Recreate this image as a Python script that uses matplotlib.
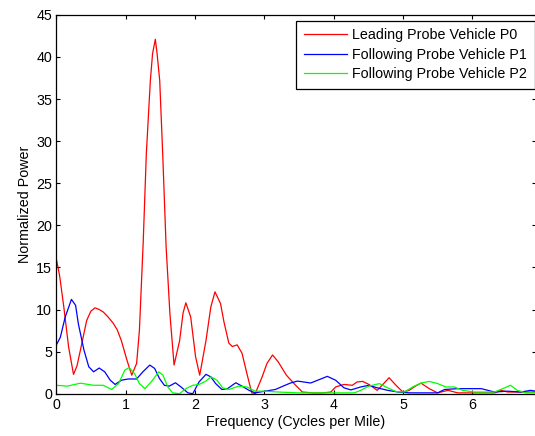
import matplotlib
matplotlib.use("Agg")
from matplotlib import pyplot as plt

plt.rcParams['font.family'] = ['Liberation Sans', 'DejaVu Sans']

# Leading probe vehicle P0 (red)
freq_p0 = [0.0, 0.05, 0.11, 0.18, 0.25, 0.30, 0.35, 0.44, 0.50, 0.56, 0.62, 0.68,
           0.75, 0.82, 0.88, 0.94, 1.02, 1.09, 1.16, 1.20, 1.255, 1.30, 1.358, 1.39,
           1.43, 1.455, 1.493, 1.536, 1.585, 1.64, 1.70, 1.78, 1.83, 1.87, 1.94, 2.01,
           2.07, 2.16, 2.23, 2.29, 2.37, 2.42, 2.49, 2.54, 2.61, 2.68, 2.75, 2.82,
           2.87, 2.92, 2.97, 3.04, 3.12, 3.20, 3.32, 3.43, 3.55, 3.70, 3.85, 3.96,
           4.03, 4.15, 4.27, 4.34, 4.42, 4.51, 4.63, 4.70, 4.80, 4.90, 5.00, 5.09,
           5.18, 5.26, 5.38, 5.50, 5.65, 5.79, 6.00, 6.32, 6.42, 6.51, 6.70, 6.92]
power_p0 = [16.1, 14.0, 10.3, 5.5, 2.3, 3.3, 5.2, 8.7, 9.8, 10.2, 10.0, 9.7,
            9.1, 8.4, 7.6, 6.3, 4.0, 2.2, 3.6, 7.5, 18.0, 28.5, 37.2, 40.4,
            42.1, 40.4, 37.2, 28.5, 17.5, 9.5, 3.4, 6.3, 9.6, 10.8, 9.1, 4.4,
            2.2, 6.3, 10.3, 12.1, 10.7, 8.5, 6.0, 5.6, 5.8, 4.8, 2.4, 0.1,
            0.0, 1.0, 2.0, 3.6, 4.6, 3.8, 2.2, 1.2, 0.2, 0.1, 0.1, 0.2,
            0.8, 1.1, 1.0, 1.4, 1.46, 1.1, 0.4, 1.0, 1.9, 1.0, 0.2, 0.4,
            0.9, 1.26, 0.6, 0.1, 0.4, 0.1, 0.1, 0.1, 0.4, 0.2, 0.2, 0.2]

# Following probe vehicle P1 (blue)
freq_p1 = [0.0, 0.06, 0.13, 0.22, 0.28, 0.32, 0.40, 0.47, 0.54, 0.62, 0.70, 0.78,
           0.85, 0.94, 1.04, 1.16, 1.25, 1.35, 1.42, 1.49, 1.56, 1.63, 1.72, 1.80,
           1.90, 1.97, 2.06, 2.16, 2.23, 2.30, 2.39, 2.47, 2.59, 2.68, 2.78, 2.87,
           3.01, 3.16, 3.30, 3.38, 3.48, 3.67, 3.91, 4.03, 4.15, 4.25, 4.39, 4.51,
           4.63, 4.78, 4.93, 5.10, 5.50, 5.60, 5.79, 6.13, 6.32, 6.51, 6.70, 6.84,
           6.92]
power_p1 = [5.75, 6.7, 9.1, 11.2, 10.5, 8.3, 5.2, 3.2, 2.6, 3.05, 2.6, 1.6,
            1.1, 1.6, 1.75, 1.75, 2.6, 3.4, 3.0, 1.8, 1.0, 0.9, 1.3, 0.8,
            0.1, 0.0, 1.4, 2.3, 2.0, 1.2, 0.5, 0.6, 1.3, 0.9, 0.4, 0.1,
            0.3, 0.5, 1.0, 1.27, 1.5, 1.27, 2.06, 1.6, 0.7, 0.45, 0.8, 1.0,
            0.7, 0.4, 0.2, 0.1, 0.1, 0.5, 0.6, 0.6, 0.2, 0.3, 0.2, 0.4,
            0.3]

# Following probe vehicle P2 (green)
freq_p2 = [0.0, 0.16, 0.35, 0.54, 0.68, 0.80, 0.90, 0.99, 1.05, 1.13, 1.20, 1.28,
           1.37, 1.48, 1.54, 1.61, 1.68, 1.78, 1.87, 1.97, 2.06, 2.16, 2.23, 2.32,
           2.40, 2.49, 2.63, 2.75, 2.87, 3.01, 3.20, 3.49, 3.80, 4.30, 4.39, 4.51,
           4.66, 4.78, 4.90, 5.02, 5.14, 5.26, 5.38, 5.50, 5.62, 5.74, 5.86, 6.03,
           6.32, 6.44, 6.55, 6.65, 6.77, 6.92]
power_p2 = [1.0, 0.9, 1.25, 1.0, 1.0, 0.5, 1.2, 2.8, 3.1, 2.4, 1.2, 0.6,
            1.4, 2.6, 2.2, 0.8, 0.1, 0.0, 0.6, 1.0, 1.1, 1.5, 2.0, 1.6,
            0.7, 0.5, 0.9, 0.8, 0.3, 0.3, 0.2, 0.1, 0.1, 0.1, 0.4, 0.9,
            1.2, 0.7, 0.25, 0.2, 0.8, 1.26, 1.46, 1.2, 0.8, 0.8, 0.4, 0.2,
            0.2, 0.6, 1.0, 0.4, 0.1, 0.1]

labels = ["Leading Probe Vehicle P0", "Following Probe Vehicle P1",
          "Following Probe Vehicle P2"]

fs = 10.3

fig = plt.figure(figsize=(5.35, 4.36), dpi=100)
ax = fig.add_axes([0.105, 0.097, 0.897, 0.869])

ax.plot(freq_p0, power_p0, color=(1, 0, 0), lw=0.9, label=labels[0])
ax.plot(freq_p1, power_p1, color=(0, 0, 1), lw=0.9, label=labels[1])
ax.plot(freq_p2, power_p2, color=(0, 1, 0), lw=0.9, label=labels[2])

ax.set_xlim(0, 6.92)
ax.set_ylim(0, 45)
ax.set_xticks(range(0, 7))
ax.set_yticks(range(0, 46, 5))
ax.tick_params(direction='in', top=True, right=True, labelsize=fs, length=3,
               width=0.8, pad=3)
for s in ax.spines.values():
    s.set_linewidth(0.9)

ax.set_xlabel("Frequency (Cycles per Mile)", fontsize=fs, labelpad=2)
ax.set_ylabel("Normalized Power", fontsize=fs, labelpad=3)

leg = ax.legend(loc='upper right', bbox_to_anchor=(0.998, 0.985), borderaxespad=0,
                fontsize=fs, fancybox=False, framealpha=1, edgecolor='black',
                handlelength=3.05, handletextpad=0.35, labelspacing=0.36,
                borderpad=0.55)
leg.get_frame().set_linewidth(0.9)

fig.savefig("out.png", dpi=100)
